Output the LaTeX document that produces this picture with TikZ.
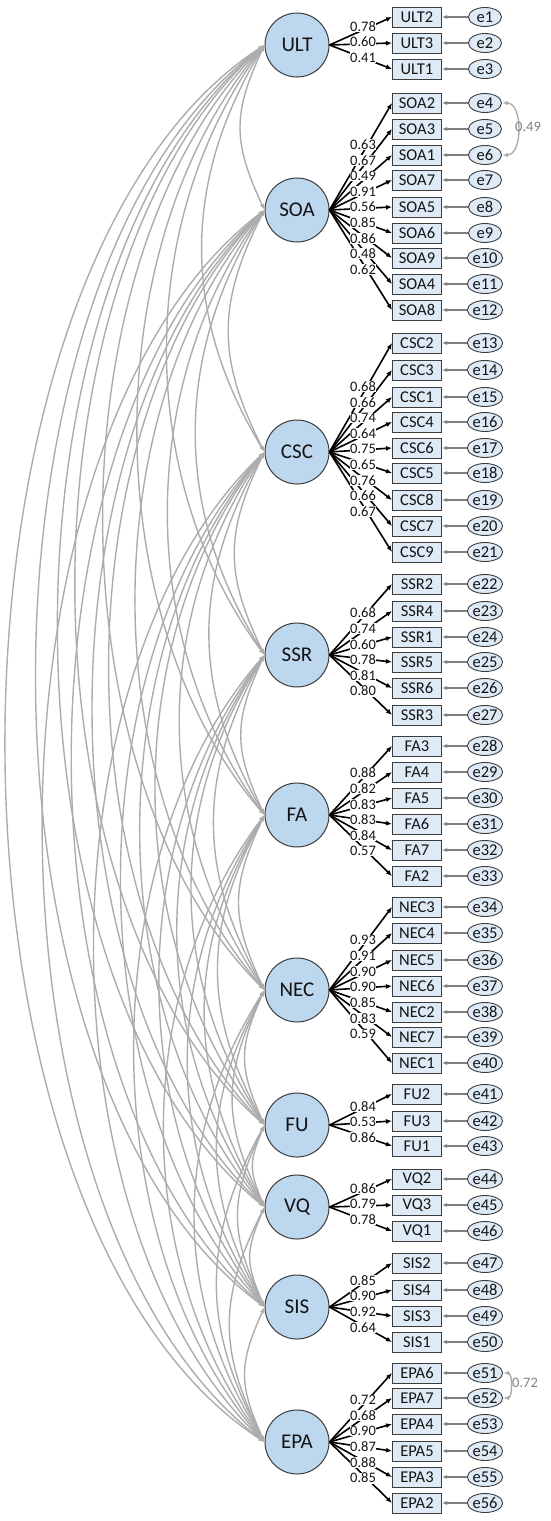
\documentclass[tikz,border=0pt]{standalone}
\usepackage{fontspec}
\setmainfont{Carlito}
\usetikzlibrary{arrows.meta,shapes.geometric}
\definecolor{latfill}{RGB}{189,215,238}
\definecolor{obsfill}{RGB}{222,235,247}
\definecolor{edgec}{RGB}{60,60,60}
\definecolor{covgray}{RGB}{172,172,172}
\definecolor{errgray}{RGB}{128,128,128}
\definecolor{txt}{RGB}{20,20,20}
\tikzset{
 latent/.style={circle,draw=edgec,fill=latfill,line width=1pt,minimum size=64pt,inner sep=0pt,font=\fontsize{21}{23}\selectfont,text=txt},
 obs/.style={rectangle,draw=edgec,fill=obsfill,line width=1pt,minimum width=49pt,minimum height=20pt,inner sep=0pt,font=\fontsize{16.5}{18}\selectfont,text=txt},
 err/.style={ellipse,draw=edgec,fill=obsfill,line width=0.9pt,minimum width=33pt,minimum height=19pt,inner sep=0pt,font=\fontsize{16.5}{18}\selectfont,text=txt},
 load/.style={draw=black,line width=1.6pt,-{Latex[length=6pt,width=5pt]}},
 lab/.style={fill=white,inner sep=0.5pt,font=\fontsize{14.5}{16}\selectfont,text=txt},
 eload/.style={draw=errgray,line width=1.1pt,-{Latex[length=5pt,width=4pt]}},
 cov/.style={draw=covgray,line width=1.4pt,{Latex[length=6pt,width=4.5pt]}-{Latex[length=6pt,width=4.5pt]}},
 covlab/.style={font=\fontsize{14.5}{16}\selectfont,text=errgray},
}
\newcommand{\latblock}[4]{%
  \node[latent] (#1) at (297,-#2) {#1};
  \foreach \ob/\iy/\ld/\en in {#4}{
    \node[obs] (\ob) at (417,-\iy) {\ob};
    \node[err] (e\en) at (485,-\iy) {e\en};
    \draw[eload] (e\en) -- (\ob);
    \draw[load] (#1.east) -- (\ob.west);
  }
  \foreach \ob/\iy/\ld/\en [count=\k] in {#4}{
    \pgfmathsetmacro{\ly}{#2-3+(\k-(#3+1)/2)*15.6}
    \node[lab] (l\en) at (363,-\ly) {\ld};
  }
}
\begin{document}
\begin{tikzpicture}[x=1pt,y=1pt]
\useasboundingbox (0,0) rectangle (550,-1521);
\latblock{ULT}{45}{3}{ULT2/17/0.78/1,ULT3/43/0.60/2,ULT1/69/0.41/3}
\latblock{SOA}{210}{9}{SOA2/103/0.63/4,SOA3/129/0.67/5,SOA1/155/0.49/6,SOA7/180/0.91/7,SOA5/207/0.56/8,SOA6/233/0.85/9,SOA9/258/0.86/10,SOA4/284/0.48/11,SOA8/310/0.62/12}
\latblock{CSC}{452}{9}{CSC2/343/0.68/13,CSC3/370/0.66/14,CSC1/397/0.74/15,CSC4/422/0.64/16,CSC6/448/0.75/17,CSC5/473/0.65/18,CSC8/500/0.76/19,CSC7/526/0.66/20,CSC9/552/0.67/21}
\latblock{SSR}{655}{6}{SSR2/584/0.68/22,SSR4/611/0.74/23,SSR1/637/0.60/24,SSR5/662/0.78/25,SSR6/688/0.81/26,SSR3/715/0.80/27}
\latblock{FA}{815}{6}{FA3/746/0.88/28,FA4/772/0.82/29,FA5/798/0.83/30,FA6/824/0.83/31,FA7/850/0.84/32,FA2/876/0.57/33}
\latblock{NEC}{990}{7}{NEC3/907/0.93/34,NEC4/933/0.91/35,NEC5/960/0.90/36,NEC6/986/0.90/37,NEC2/1012/0.85/38,NEC7/1037/0.83/39,NEC1/1063/0.59/40}
\latblock{FU}{1125}{3}{FU2/1094/0.84/41,FU3/1121/0.53/42,FU1/1146/0.86/43}
\latblock{VQ}{1207}{3}{VQ2/1179/0.86/44,VQ3/1205/0.79/45,VQ1/1231/0.78/46}
\latblock{SIS}{1307}{4}{SIS2/1263/0.85/47,SIS4/1290/0.90/48,SIS3/1316/0.92/49,SIS1/1342/0.64/50}
\latblock{EPA}{1442}{6}{EPA6/1373/0.72/51,EPA7/1398/0.68/52,EPA4/1424/0.90/53,EPA5/1451/0.87/54,EPA3/1477/0.88/55,EPA2/1503/0.85/56}
% correlations among latents
\foreach \na/\ya [count=\i] in {ULT/45,SOA/210,CSC/452,SSR/655,FA/815,NEC/990,FU/1125,VQ/1207,SIS/1307,EPA/1442}{
  \foreach \nb/\yb [count=\j] in {ULT/45,SOA/210,CSC/452,SSR/655,FA/815,NEC/990,FU/1125,VQ/1207,SIS/1307,EPA/1442}{
    \ifnum\j>\i
      \pgfmathsetmacro{\dd}{\yb-\ya}
      \pgfmathsetmacro{\tt}{(\dd-165)/1232}
      \pgfmathsetmacro{\ph}{65-32*\tt}
      \pgfmathsetmacro{\rr}{0.145+0.04*\tt}
      \pgfmathsetmacro{\cx}{\rr*\dd/0.75}
      \pgfmathsetmacro{\cy}{\cx*tan(\ph)}
      \draw[cov] (\na.west) .. controls +(-\cx,-\cy) and +(-\cx,\cy) .. (\nb.west);
    \fi
  }
}
% error covariances
\draw[cov] (e4.east) .. controls +(21,0) and +(21,0) .. (e6.east);
\node[covlab] (c1) at (528,-127) {0.49};
\draw[cov] (e51.east) .. controls +(9.5,0) and +(9.5,0) .. (e52.east);
\node[covlab] (c2) at (525,-1383) {0.72};
\end{tikzpicture}
\end{document}
